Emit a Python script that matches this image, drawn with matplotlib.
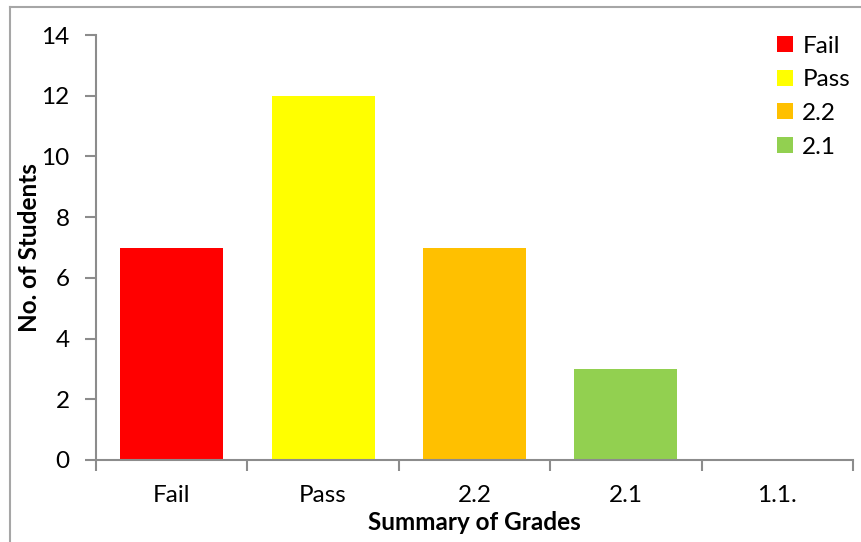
import matplotlib.pyplot as plt
from matplotlib.lines import Line2D
from matplotlib.patches import Patch
import numpy as np

# grade summary
grades = ["Fail", "Pass", "2.2", "2.1", "1.1."]
students = [7, 12, 7, 3, 0]
bar_colors = ["#FF0000", "#FFFF00", "#FFC000", "#92D050", "#4F81BD"]
legend_labels = ["Fail", "Pass", "2.2", "2.1"]
y_ticks = [0, 2, 4, 6, 8, 10, 12, 14]

plt.rcParams["font.family"] = ["Lato", "DejaVu Sans"]
FS = 17.5

fig = plt.figure(figsize=(8.61, 5.42), dpi=100)
ax = fig.add_axes([96 / 861, 1 - 460 / 542, (853 - 96) / 861, (460 - 35) / 542])

x = np.arange(len(grades))
ax.bar(x, students, width=0.68, color=bar_colors, zorder=2)

ax.set_xlim(-0.5, len(grades) - 0.5)
ax.set_ylim(0, 14)
ax.set_yticks(y_ticks)
ax.set_xticks(x)
ax.set_xticklabels(grades)
ax.set_xticks(np.arange(-0.5, len(grades)), minor=True)

axis_gray = "#8C8C8C"
for side in ["top", "right"]:
    ax.spines[side].set_visible(False)
for side in ["left", "bottom"]:
    ax.spines[side].set_color(axis_gray)
    ax.spines[side].set_linewidth(1.5)

ax.tick_params(axis="y", direction="out", length=8, width=1.5, color=axis_gray,
               labelsize=FS, pad=11)
ax.tick_params(axis="x", which="major", length=0, labelsize=FS, pad=18)
ax.tick_params(axis="x", which="minor", direction="out", length=8, width=1.5,
               color=axis_gray)

ax.set_ylabel("No. of Students", fontsize=FS, fontweight="bold")
ax.yaxis.set_label_coords((30 - 96) / 757, 0.5)
ax.set_xlabel("Summary of Grades", fontsize=FS, fontweight="bold")
ax.xaxis.set_label_coords(0.5, -(523 - 460) / 425)
ax.xaxis.label.set_va("center")
ax.yaxis.label.set_va("center")

handles = [Patch(facecolor=c, edgecolor="none") for c in bar_colors[:4]]
ax.legend(handles, legend_labels, loc="upper right", bbox_to_anchor=(1.025, 1.05),
          frameon=False, fontsize=FS, handlelength=0.65, handleheight=0.65,
          handletextpad=0.4, labelspacing=0.52)

# chart area frame
frame_gray = "#A6A6A6"
fig.add_artist(Line2D([10 / 861, 10 / 861], [0, 1 - 7 / 542], color=frame_gray,
                      linewidth=1.5, transform=fig.transFigure))
fig.add_artist(Line2D([10 / 861, 1], [1 - 7 / 542, 1 - 7 / 542], color=frame_gray,
                      linewidth=1.5, transform=fig.transFigure))

fig.savefig("out.png", dpi=100)
